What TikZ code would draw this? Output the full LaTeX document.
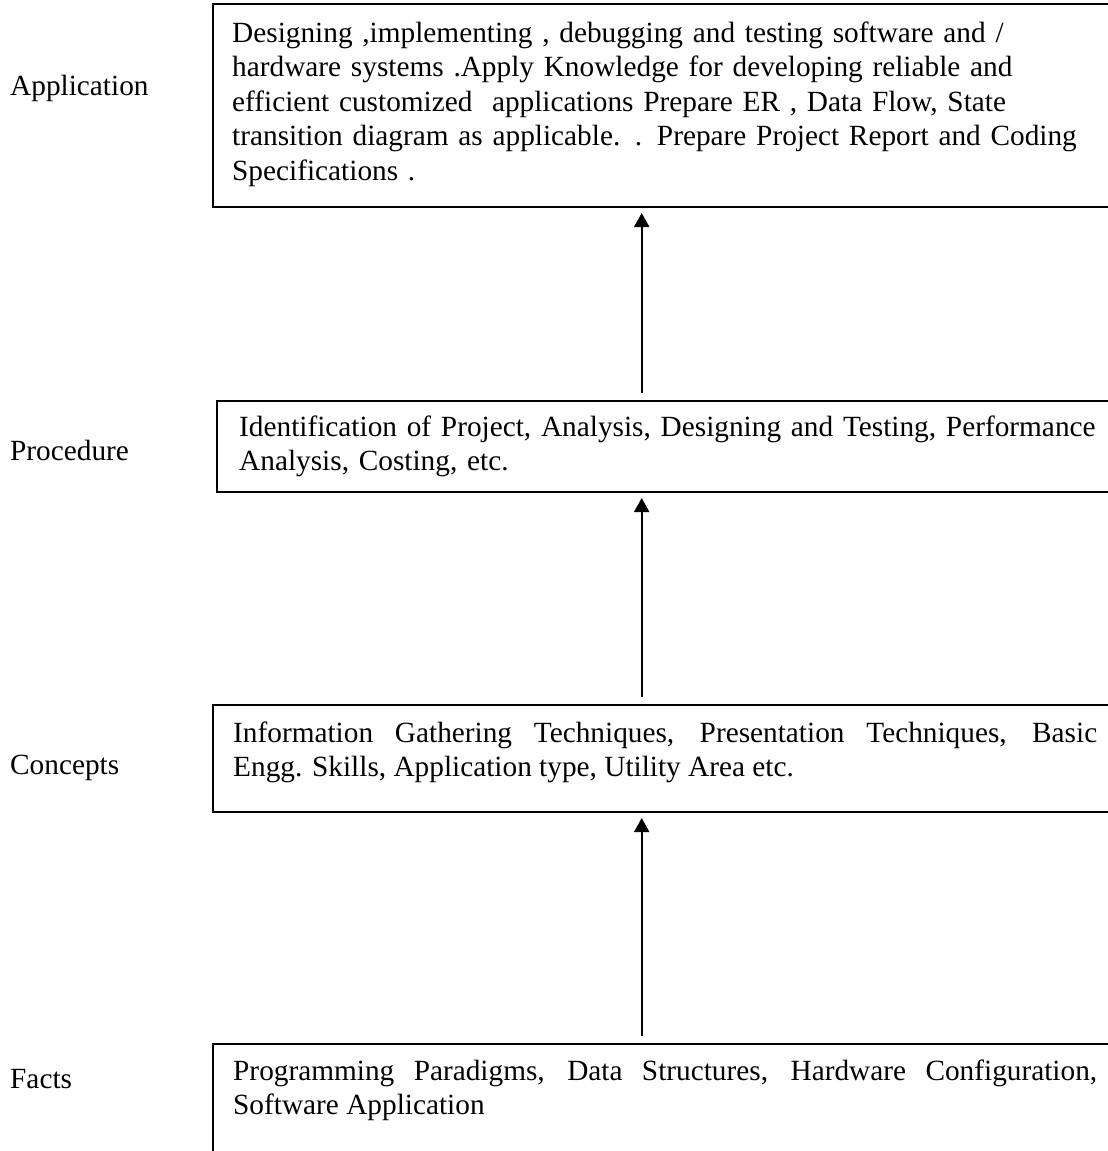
\documentclass[tikz,border=0pt]{standalone}
\usepackage{fontspec}
\setmainfont{Liberation Serif}
\usetikzlibrary{arrows.meta}
\hyphenpenalty=10000
\exhyphenpenalty=10000
\begin{document}
\begin{tikzpicture}[x=1pt,y=-1pt,
  box/.style={draw, line width=2pt, anchor=north west, inner sep=0pt, outer sep=0pt},
  txt/.style={anchor=north west, inner sep=0pt, font=\fontsize{29.3}{34.5}\selectfont},
  lab/.style={anchor=base west, inner sep=0pt, font=\fontsize{29.3}{34.5}\selectfont},
  arr/.style={line width=2pt, -{Triangle[length=14pt,width=15pt]}, shorten <=8pt, shorten >=6pt}]
\useasboundingbox (0,0) rectangle (1108,1151);
\clip (0,0) rectangle (1108,1151);
% boxes
\node[box, minimum width=907pt, minimum height=203pt] (app) at (213,4) {};
\node[box, minimum width=903pt, minimum height=91pt] (proc) at (217,401) {};
\node[box, minimum width=907pt, minimum height=107pt] (conc) at (213,705) {};
\node[box, minimum width=907pt, minimum height=140pt] (facts) at (213,1044) {};
% box texts
\node[txt, text width=900pt, align=left] (apptext) at (232,21.2)
  {Designing ,implementing , debugging and testing software and /\\
   hardware systems .Apply Knowledge for developing reliable and\\
   efficient customized \ applications Prepare ER , Data Flow, State\\
   transition diagram as applicable. . Prepare Project Report and Coding\\
   Specifications .};
\node[txt, text width=900pt, align=left] (proctext) at (239,415.5)
  {Identification of Project, Analysis, Designing and Testing, Performance\\
   Analysis, Costing, etc.};
\node[txt, text width=864pt, align=justify] (conctext) at (233,721.2)
  {Information Gathering Techniques, Presentation Techniques, Basic\linebreak
   Engg. Skills, Application type, Utility Area etc.};
\node[txt, text width=864pt, align=justify] (factstext) at (233,1059.5)
  {Programming Paradigms, Data Structures, Hardware Configuration,\linebreak
   Software Application};
% labels
\node[lab] (lapp) at (10,95) {Application};
\node[lab] (lproc) at (10,460) {Procedure};
\node[lab] (lconc) at (10,774) {Concepts};
\node[lab] (lfacts) at (10,1088) {Facts};
% arrows
\coordinate (ax) at (641.7,0);
\draw[arr] (proc.north -| ax) -- (app.south -| ax);
\draw[arr] (conc.north -| ax) -- (proc.south -| ax);
\draw[arr] (facts.north -| ax) -- (conc.south -| ax);
\end{tikzpicture}
\end{document}
